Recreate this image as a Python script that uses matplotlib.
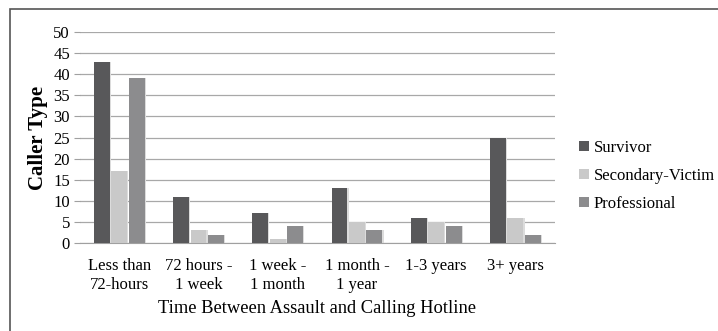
import matplotlib
matplotlib.use("Agg")
import matplotlib.pyplot as plt
import numpy as np
from matplotlib.patches import Rectangle

categories = ["Less than\n72-hours", "72 hours -\n1 week", "1 week -\n1 month", "1 month -\n1 year", "1-3 years", "3+ years"]
series_names = ["Survivor", "Secondary-Victim", "Professional"]
survivor = [43, 11, 7, 13, 6, 25]
secondary = [17, 3, 1, 5, 5, 6]
professional = [39, 2, 4, 3, 4, 2]
yticks = [0, 5, 10, 15, 20, 25, 30, 35, 40, 45, 50]

colors = ["#58585a", "#c9c9c9", "#8c8c8e"]

plt.rcParams['font.family'] = ['Liberation Serif', 'DejaVu Serif']

fig = plt.figure(figsize=(7.18, 3.31), dpi=100)
ax = fig.add_axes([0.111, 0.266, 0.662, 0.637])

x = np.arange(len(categories))
w = 0.2
offs = [-0.22, 0.0, 0.22]
for vals, c, o, n in zip([survivor, secondary, professional], colors, offs, series_names):
    ax.bar(x + o + 0.015, vals, w, color="#dcdcdc", zorder=2, linewidth=0)
    ax.bar(x + o, vals, w, color=c, label=n, zorder=3, linewidth=0)

ax.set_xlim(-0.5, 5.5)
ax.set_ylim(0, 50)
ax.set_yticks(yticks)
ax.yaxis.grid(True, color="#a8a8a8", linewidth=0.9, zorder=0)
ax.set_axisbelow(True)
for s in ["top", "right", "left"]:
    ax.spines[s].set_visible(False)
ax.spines["bottom"].set_color("#a0a0a0")
ax.tick_params(axis="y", length=4, color="#a0a0a0", labelsize=12, pad=3)
ax.tick_params(axis="x", length=0, labelsize=12, pad=11)
ax.set_xticks(x)
ax.set_xticklabels(categories, linespacing=1.2)
ax.set_ylabel("Caller Type", fontsize=15, fontweight="bold", labelpad=4)
ax.set_xlabel("Time Between Assault and Calling Hotline", fontsize=13.3, labelpad=5)

handles, labels = ax.get_legend_handles_labels()
leg = fig.legend(handles, labels, loc="center left", bbox_to_anchor=(0.786, 0.468),
                 frameon=False, fontsize=12, handlelength=0.55, handleheight=0.55,
                 handletextpad=0.3, labelspacing=0.72)

fig.patches.append(Rectangle((0.014, -0.1), 1.2, 0.1 + 1 - 9/331, transform=fig.transFigure,
                             fill=False, edgecolor="#555555", linewidth=1.2, figure=fig))

fig.savefig("out.png", dpi=100)
